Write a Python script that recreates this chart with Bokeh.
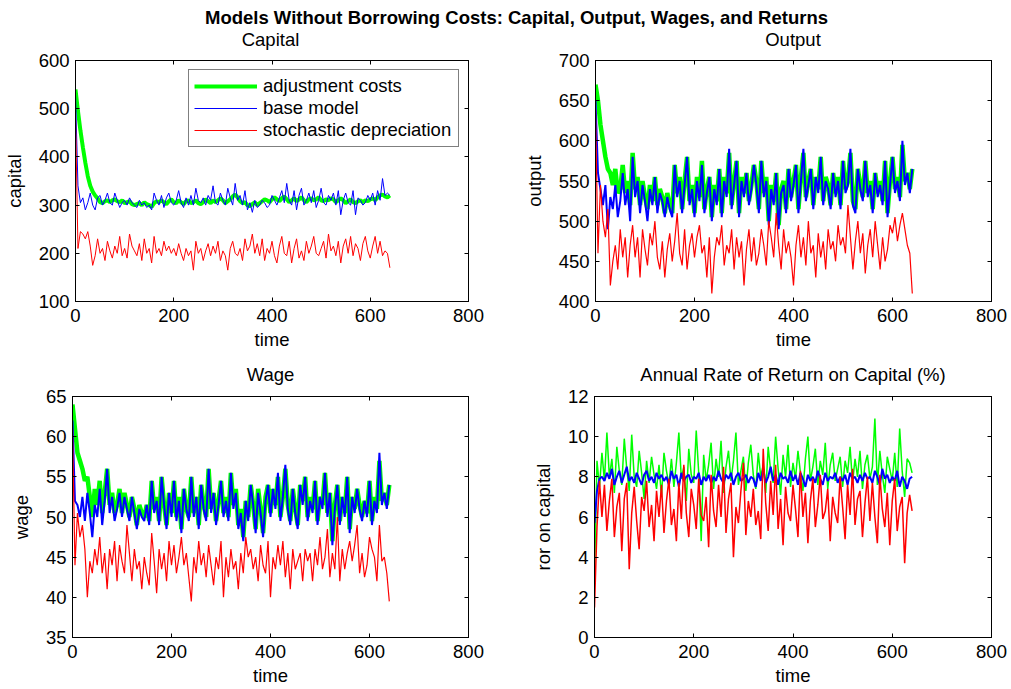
from bokeh.plotting import figure
from bokeh.models import (FixedTicker, Range1d, Legend, LegendItem, LinearAxis,
                          CustomLabelingPolicy)
from bokeh.layouts import column, row
from bokeh.embed import file_html
from bokeh.resources import INLINE
from bokeh.core.properties import value

FONT = "Liberation Sans"
FS = "18.5px"

time = list(range(0, 645, 5))

capital_adj = [540,495,455,420,388,360,340,328,320,314,306,304,308,310,306,310,
               312,308,306,310,304,306,308,302,300,302,304,300,306,302,300,296,
               304,308,306,310,306,302,308,312,306,304,310,306,302,308,310,304,
               306,310,304,302,306,312,308,304,310,306,310,314,310,304,308,312,
               318,322,316,308,304,306,300,298,302,306,300,304,308,312,310,306,
               312,316,312,308,314,318,312,306,310,314,308,312,316,310,306,312,
               314,310,312,316,310,308,312,310,314,312,306,310,314,310,304,308,
               312,306,304,308,310,306,310,308,312,314,310,316,320,322,318,316,
               320]
capital_base = [530,340,305,315,290,305,325,300,290,315,320,300,310,325,305,300,
                325,310,295,305,310,300,315,305,300,295,310,300,305,295,300,290,
                325,310,300,320,295,315,325,305,300,310,330,305,295,315,300,320,
                300,335,310,305,315,300,320,310,340,305,300,325,310,300,335,315,
                300,345,310,320,300,330,290,305,285,310,295,300,310,305,295,300,
                320,310,300,315,330,305,345,310,300,330,290,320,335,300,310,325,
                305,330,295,310,335,305,300,320,310,325,300,330,280,310,325,305,
                300,330,280,315,310,300,305,320,310,325,300,330,310,355,320,325,
                320]
capital_stoch = [490,210,245,240,230,245,215,175,195,230,200,210,185,225,205,190,
                 215,200,235,195,210,190,240,215,205,195,220,185,230,200,210,180,
                 235,200,210,195,225,205,215,200,210,195,220,200,185,210,195,205,
                 165,225,200,210,185,205,220,195,215,200,225,185,205,195,165,210,
                 225,200,195,210,185,230,205,215,240,200,220,195,230,185,210,200,
                 225,195,180,215,235,200,195,225,180,210,230,190,205,185,225,200,
                 215,235,200,195,210,225,190,240,205,215,195,225,180,215,230,200,
                 235,195,220,210,185,220,235,205,190,215,235,200,225,195,205,200,
                 170]

output_adj = [670,650,620,600,580,565,560,545,565,535,540,570,535,550,520,585,
              540,555,520,550,530,515,545,525,555,520,540,530,510,535,520,510,
              570,535,555,515,550,580,525,545,510,555,530,575,515,540,555,505,
              545,525,565,510,555,535,585,520,550,575,510,555,535,560,525,545,
              570,550,515,575,535,555,500,545,525,560,495,540,550,515,565,530,
              550,570,515,555,585,530,550,565,520,555,540,580,525,555,545,520,
              560,535,555,520,575,540,550,585,525,515,565,545,530,575,535,550,
              515,560,535,550,525,575,510,550,580,540,555,530,595,550,560,540,
              565]
output_base = [650,560,540,520,545,490,530,515,545,505,525,560,520,540,500,580,
               530,550,510,545,525,500,540,520,555,510,535,525,505,530,515,505,
               570,530,550,510,545,580,520,540,505,550,525,570,510,535,555,500,
               540,520,565,505,550,530,590,515,545,575,505,550,530,560,520,540,
               570,545,510,575,530,550,495,540,520,560,490,535,545,510,565,525,
               545,570,510,550,590,525,545,565,515,555,535,580,520,550,540,515,
               560,530,550,515,575,535,545,590,520,510,565,540,525,575,530,545,
               510,560,530,545,520,575,505,545,580,535,550,525,600,545,560,535,
               565]
output_stoch = [640,460,545,500,480,515,420,450,470,440,490,455,480,430,470,495,
                455,480,430,490,465,445,485,470,500,455,440,475,430,465,485,450,
                475,510,460,445,490,440,470,485,455,480,495,460,470,430,480,410,
                455,480,470,495,445,470,460,490,440,480,455,475,420,465,490,450,
                480,445,460,490,470,445,500,480,455,510,470,440,490,460,475,455,
                420,470,495,455,480,445,500,460,470,430,485,455,475,440,490,465,
                475,450,495,470,480,460,520,480,440,475,500,460,485,435,470,490,
                455,500,470,440,480,450,465,495,485,505,475,495,510,490,470,460,
                410]

wage_adj = [64.0,61.0,58.0,57.0,56.0,54.5,55.0,52.5,50.0,53.5,51.5,54.5,50.5,53.0,56.0,51.5,
            53.0,50.5,51.5,53.5,50.5,53.0,51.5,50.0,52.5,51.0,49.0,51.5,50.5,50.0,51.5,49.5,
            54.5,51.0,52.5,49.5,55.0,51.5,49.0,53.0,50.5,54.5,50.0,52.5,48.5,53.5,51.0,50.0,
            55.0,50.5,52.5,49.0,54.0,51.5,50.0,56.0,51.0,53.0,49.5,52.0,54.5,50.5,52.5,50.0,
            55.5,51.5,53.5,49.0,51.0,47.5,52.0,50.0,54.0,51.5,48.5,53.5,51.0,48.0,52.5,54.0,
            50.5,53.5,51.5,55.0,50.0,52.5,56.0,51.5,49.5,53.5,51.0,49.0,54.0,52.0,55.0,50.0,
            52.5,51.0,54.5,49.5,52.5,51.5,55.5,50.5,53.0,47.0,51.5,54.0,49.5,52.5,50.5,55.0,
            48.5,52.5,51.0,53.5,51.5,50.0,52.0,50.5,54.5,49.5,52.5,51.0,57.0,52.0,53.0,51.5,
            54.0]
wage_base = [62.0,52.0,51.5,50.0,52.5,49.5,53.0,50.5,47.5,51.5,50.0,53.5,49.0,52.0,56.0,50.5,
             52.5,49.5,51.0,53.0,50.0,52.5,51.0,49.5,52.5,50.5,48.5,51.0,50.0,49.5,51.5,49.0,
             54.5,50.5,52.0,49.0,55.0,51.5,48.5,53.0,50.0,54.5,49.5,52.0,48.0,53.5,51.0,49.5,
             55.0,50.0,52.5,48.5,54.0,51.0,49.5,56.0,50.5,53.0,49.0,51.5,54.5,50.0,52.0,49.5,
             55.5,51.0,53.0,48.5,50.5,47.0,52.0,49.5,54.0,51.5,48.0,53.0,50.5,47.5,52.0,54.0,
             50.0,53.5,51.0,55.5,49.5,52.5,56.5,51.0,49.0,53.5,50.5,48.5,54.0,51.5,55.0,49.5,
             52.0,50.5,54.5,49.0,52.5,51.0,55.5,50.0,53.0,46.5,51.0,54.0,49.0,52.5,50.0,55.0,
             48.0,52.5,50.5,53.5,51.0,49.5,52.0,50.0,54.5,49.0,52.0,50.5,58.0,51.5,53.0,51.0,
             54.0]
wage_stoch = [61.0,44.0,50.5,47.5,49.0,46.0,40.0,44.5,43.0,46.0,44.0,47.5,43.0,45.5,41.0,46.0,
              44.0,47.0,42.0,46.5,44.5,43.0,49.0,45.5,42.0,46.0,43.5,44.5,41.0,45.0,43.0,41.5,
              48.0,44.5,40.5,46.0,43.5,45.5,42.0,47.0,44.0,46.5,43.0,45.0,47.5,44.0,45.5,42.5,
              39.5,45.0,43.0,47.0,44.0,45.5,42.5,46.5,44.0,41.5,45.0,43.5,47.0,40.0,45.0,42.5,
              46.0,43.5,44.5,41.0,45.5,43.0,47.5,45.0,46.0,43.5,45.0,42.0,46.5,44.0,43.0,47.0,
              40.0,45.0,43.5,46.5,44.0,47.0,42.5,45.5,41.0,46.0,43.5,44.5,45.5,42.0,46.0,44.5,
              45.5,42.0,46.0,44.0,47.5,43.5,45.0,48.5,42.5,45.5,43.5,50.0,42.0,46.0,43.5,45.5,
              47.0,44.5,46.5,49.0,43.0,45.5,42.5,44.0,47.5,46.0,45.0,42.0,49.0,44.5,45.0,43.0,
              39.5]

ror_adj = [3.0,8.8,7.5,9.2,7.8,10.2,8.0,8.9,7.2,9.5,8.3,7.6,9.9,8.4,7.3,10.1,
           8.0,7.5,9.3,8.2,6.9,8.8,7.7,9.0,8.1,7.4,8.6,7.0,9.2,8.3,7.6,8.9,
           7.5,8.7,10.2,7.9,8.5,6.8,9.4,8.1,7.7,10.3,8.2,4.8,9.1,7.8,8.6,9.7,
           7.4,8.9,8.0,9.8,7.2,8.5,9.3,7.8,8.8,10.2,7.6,8.3,9.0,7.3,8.7,9.6,
           8.1,7.4,9.2,8.0,8.6,7.2,9.5,8.3,7.7,10.0,8.4,7.1,9.1,8.0,9.6,7.5,
           8.7,7.9,9.3,8.2,7.3,8.9,10.0,7.8,8.5,9.4,7.6,8.8,8.1,9.7,7.4,8.6,
           9.2,7.8,8.4,9.0,7.5,8.8,8.2,9.5,7.7,8.9,8.0,9.3,7.4,8.6,9.1,7.9,
           8.5,10.9,7.6,9.3,8.1,7.2,9.0,8.4,7.8,9.2,7.5,10.4,8.3,7.0,8.9,8.7,
           8.2]
ror_base = [5.7,7.3,7.9,8.0,7.8,8.2,7.9,8.4,7.6,8.0,8.3,7.7,8.1,8.5,7.8,8.0,
            7.7,8.2,7.9,7.6,8.1,8.3,7.8,8.0,7.7,8.2,7.9,8.1,7.8,8.0,7.6,8.3,
            7.9,8.1,7.5,8.2,7.8,8.0,8.1,7.7,8.0,7.9,8.2,7.6,8.0,7.8,8.1,7.7,
            8.0,7.8,8.3,7.9,7.7,8.1,7.9,8.2,7.6,8.0,8.2,7.8,7.9,8.1,7.7,8.0,
            7.9,7.5,8.2,7.8,8.4,7.7,8.0,8.5,7.8,8.1,7.6,8.2,7.9,8.0,7.7,8.3,
            7.8,8.1,7.6,8.2,7.9,7.5,8.1,7.8,8.0,7.7,8.3,7.9,7.6,8.2,7.8,8.0,
            7.9,8.2,7.7,8.0,7.8,8.1,7.6,8.2,7.9,8.0,7.7,8.1,7.8,8.2,7.9,8.0,
            7.7,8.3,8.0,7.6,8.4,7.9,8.1,7.7,8.0,7.8,8.3,7.5,8.0,7.8,7.4,7.9,
            8.0]
ror_stoch = [1.5,5.5,7.8,6.0,7.6,5.3,6.8,7.9,5.0,6.5,7.2,4.3,6.9,7.7,3.4,6.2,
             7.5,5.8,4.4,7.0,6.3,7.8,5.5,6.6,4.8,7.3,6.0,7.6,5.2,6.8,7.9,5.6,
             6.4,4.8,7.7,5.9,8.6,6.2,5.0,7.4,6.6,5.4,7.9,6.1,5.8,7.0,4.5,8.1,
             6.3,5.5,7.6,6.0,8.5,5.2,6.9,7.7,4.0,6.5,5.7,7.3,8.7,5.1,6.8,6.0,
             7.4,5.6,6.3,4.9,9.4,6.7,5.3,7.8,6.1,8.6,5.4,6.9,4.6,7.5,6.2,5.8,
             7.6,6.4,5.0,8.3,6.0,7.2,4.7,6.8,7.9,5.5,6.6,8.1,5.9,6.3,7.4,4.8,
             7.0,6.2,5.7,8.0,6.5,4.9,7.6,6.1,8.4,5.6,6.9,7.3,5.0,6.7,8.0,5.8,
             7.7,6.0,4.7,8.1,6.4,5.5,7.2,4.6,6.8,7.9,5.3,6.5,7.0,3.7,6.2,7.1,
             6.3]

main_title = "Models Without Borrowing Costs: Capital, Output, Wages, and Returns"
panel_titles = ["Capital", "Output", "Wage", "Annual Rate of Return on Capital (%)"]
y_labels = ["capital", "output", "wage", "ror on capital"]
legend_labels = ["adjustment costs", "base model", "stochastic depreciation"]
x_ticks = [0, 200, 400, 600, 800]
capital_ticks = [100, 200, 300, 400, 500, 600]
output_ticks = [400, 450, 500, 550, 600, 650, 700]
wage_ticks = [35, 40, 45, 50, 55, 60, 65]
ror_ticks = [0, 2, 4, 6, 8, 10, 12]

GREEN, BLUE, RED = "#00ff00", "#0000ff", "#ff0000"
X_MAX = 800
TICK_PX = 4
HIDE_ALL = "for (const i of indices) { indices.unset(i) }\nreturn indices"

# layout geometry (pixels)
W = 1011
LEFT_W, RIGHT_W = 520, 491
L_BL, L_BR, R_BL, R_BR = 72, 52, 74, 20
STRIP1_H, STRIP2_H = 50, 33
ROW1 = dict(bt=10, fh=242, bb=50)
ROW2 = dict(bt=11, fh=241, bb=52)
LEFT_CX = L_BL + (LEFT_W - L_BL - L_BR) / 2
RIGHT_CX = LEFT_W + R_BL + (RIGHT_W - R_BL - R_BR) / 2


def style_axis(ax, ticks, labelled=True):
    ax.ticker = FixedTicker(ticks=ticks)
    ax.major_tick_in = TICK_PX
    ax.major_tick_out = 0
    ax.minor_tick_line_color = None
    ax.axis_line_color = "black"
    ax.major_tick_line_color = "black"
    ax.major_label_text_font = FONT
    ax.major_label_text_color = "black"
    ax.axis_label_text_font = FONT
    ax.axis_label_text_font_size = FS
    ax.axis_label_text_font_style = "normal"
    ax.axis_label_text_color = "black"
    if labelled:
        ax.major_label_text_font_size = FS
    else:
        ax.major_label_text_font_size = "1px"
        ax.major_label_standoff = 0
        ax.major_label_policy = CustomLabelingPolicy(code=HIDE_ALL)


def make_panel(ylabel, yr, yticks, series, widths, width, bl, br, geo):
    height = geo["bt"] + geo["fh"] + geo["bb"]
    p = figure(width=width, height=height, output_backend="svg", toolbar_location=None,
               x_range=Range1d(0, X_MAX), y_range=Range1d(*yr),
               min_border_left=bl, min_border_right=br,
               min_border_top=geo["bt"], min_border_bottom=geo["bb"],
               x_axis_label="time", y_axis_label=ylabel)
    p.outline_line_color = "black"
    p.outline_line_width = 1
    p.grid.visible = False
    p.background_fill_color = "white"
    p.border_fill_color = "white"

    style_axis(p.xaxis[0], x_ticks)
    style_axis(p.yaxis[0], yticks)
    p.xaxis[0].major_label_standoff = 7
    p.yaxis[0].major_label_standoff = 6
    p.xaxis[0].axis_label_standoff = 4
    p.yaxis[0].axis_label_standoff = 11

    top = LinearAxis()
    style_axis(top, x_ticks, labelled=False)
    p.add_layout(top, "above")
    right = LinearAxis()
    style_axis(right, yticks, labelled=False)
    p.add_layout(right, "right")

    renderers = []
    for ys, color, lw in zip(series, [GREEN, BLUE, RED], widths):
        r = p.line(time, ys, line_color=color, line_width=lw)
        renderers.append(r)
    return p, renderers


def text_strip(height, texts, xs, ys, styles):
    s = figure(width=W, height=height, output_backend="svg", toolbar_location=None,
               x_range=Range1d(0, W), y_range=Range1d(0, height),
               x_axis_type=None, y_axis_type=None, min_border=0)
    s.outline_line_color = None
    s.grid.visible = False
    s.background_fill_color = "white"
    s.border_fill_color = "white"
    for t, x, y, style in zip(texts, xs, ys, styles):
        s.text(x=[x], y=[y], text=[t], text_font=value(FONT), text_font_size=FS,
               text_font_style=style, text_align="center", text_baseline="middle",
               text_color="black")
    return s


# strip 1: main title (centre 17 px from top) + row-1 panel titles (centre ~38 px from top)
strip1 = text_strip(STRIP1_H,
                    [main_title, panel_titles[0], panel_titles[1]],
                    [516, LEFT_CX, RIGHT_CX],
                    [STRIP1_H - 17, STRIP1_H - 38.5, STRIP1_H - 38.5],
                    ["bold", "normal", "normal"])
# strip 2: row-2 panel titles (centre ~22 px below the strip top)
strip2 = text_strip(STRIP2_H,
                    [panel_titles[2], panel_titles[3]],
                    [LEFT_CX, RIGHT_CX],
                    [STRIP2_H - 21.8, STRIP2_H - 21.8],
                    ["normal", "normal"])

p1, r1 = make_panel(y_labels[0], (100, 600), capital_ticks,
                    [capital_adj, capital_base, capital_stoch], [4, 1, 1],
                    LEFT_W, L_BL, L_BR, ROW1)
p2, _ = make_panel(y_labels[1], (400, 700), output_ticks,
                   [output_adj, output_base, output_stoch], [4.5, 2, 1.2],
                   RIGHT_W, R_BL, R_BR, ROW1)
p3, _ = make_panel(y_labels[2], (35, 65), wage_ticks,
                   [wage_adj, wage_base, wage_stoch], [4.5, 2, 1.2],
                   LEFT_W, L_BL, L_BR, ROW2)
p4, _ = make_panel(y_labels[3], (0, 12), ror_ticks,
                   [ror_adj, ror_base, ror_stoch], [1.5, 2, 1.5],
                   RIGHT_W, R_BL, R_BR, ROW2)

legend = Legend(items=[LegendItem(label=lab, renderers=[r]) for lab, r in zip(legend_labels, r1)],
                location="top_right", margin=9, padding=5, spacing=0,
                glyph_width=63, glyph_height=22, label_standoff=6, label_width=190,
                label_text_font=FONT, label_text_font_size=FS, label_text_color="black",
                border_line_color="black", border_line_width=1,
                background_fill_color="white", background_fill_alpha=1.0)
p1.add_layout(legend)

layout = column(strip1, row(p1, p2), strip2, row(p3, p4))
open("out.html", "w").write(file_html(layout, INLINE))
